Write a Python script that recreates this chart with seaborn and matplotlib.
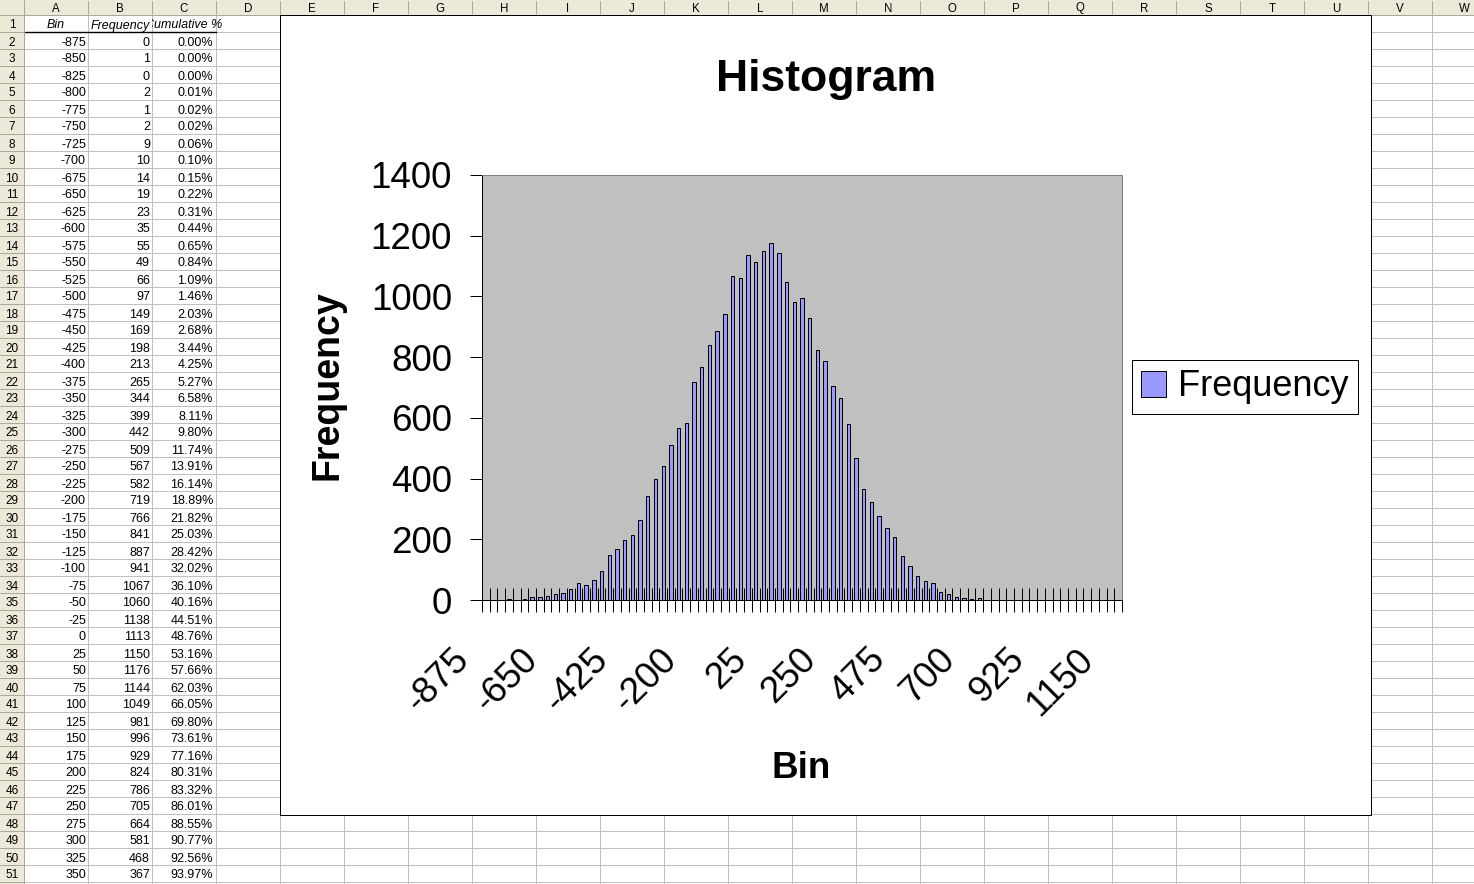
import matplotlib
matplotlib.use("Agg")
import matplotlib.pyplot as plt
from matplotlib.patches import Rectangle
from matplotlib.transforms import ScaledTranslation
import numpy as np
import pandas as pd
import seaborn as sns

# Histogram bins (categories) and counts
bins = [-875, -850, -825, -800, -775, -750, -725, -700, -675, -650,
        -625, -600, -575, -550, -525, -500, -475, -450, -425, -400,
        -375, -350, -325, -300, -275, -250, -225, -200, -175, -150,
        -125, -100, -75, -50, -25, 0, 25, 50, 75, 100,
        125, 150, 175, 200, 225, 250, 275, 300, 325, 350,
        375, 400, 425, 450, 475, 500, 525, 550, 575, 600,
        625, 650, 675, 700, 725, 750, 775, 800, 825, 850,
        875, 900, 925, 950, 975, 1000, 1025, 1050, 1075, 1100,
        1125, 1150, 1175]
frequency = [0, 1, 0, 2, 1, 2, 9, 10, 14, 19,
             23, 35, 55, 49, 66, 97, 149, 169, 198, 213,
             265, 344, 399, 442, 509, 567, 582, 719, 766, 841,
             887, 941, 1067, 1060, 1138, 1113, 1150, 1176, 1144, 1049,
             981, 996, 929, 824, 786, 705, 664, 581, 468, 367,
             323, 277, 238, 208, 145, 112, 79, 63, 56, 26,
             20, 10, 7, 3, 7, 0, 0, 0, 0, 0,
             0, 0, 0, 0, 0, 0, 0, 0, 0, 0,
             0, 0, 0]
# cumulative % column as shown in the sheet (rows 2-51)
cum_pct = [0.00, 0.00, 0.00, 0.01, 0.02, 0.02, 0.06, 0.10, 0.15, 0.22,
           0.31, 0.44, 0.65, 0.84, 1.09, 1.46, 2.03, 2.68, 3.44, 4.25,
           5.27, 6.58, 8.11, 9.80, 11.74, 13.91, 16.14, 18.89, 21.82, 25.03,
           28.42, 32.02, 36.10, 40.16, 44.51, 48.76, 53.16, 57.66, 62.03, 66.05,
           69.80, 73.61, 77.16, 80.31, 83.32, 86.01, 88.55, 90.77, 92.56, 93.97]
col_letters = list("ABCDEFGHIJKLMNOPQRSTUVW")
y_ticks = [0, 200, 400, 600, 800, 1000, 1200, 1400]

W, H = 1474, 884
PT = 0.72  # points per pixel at dpi 100

sns.set_style("white")
plt.rcParams['font.family'] = ['Liberation Sans', 'DejaVu Sans']
plt.rcParams.update({'text.color': 'black', 'axes.labelcolor': 'black',
                     'xtick.color': 'black', 'ytick.color': 'black'})

fig = plt.figure(figsize=(W / 100, H / 100), dpi=100)

# ---- spreadsheet background ----
bg = fig.add_axes([0, 0, 1, 1])
bg.set_xlim(0, W)
bg.set_ylim(H, 0)
bg.axis('off')

head_h, row_h, rowhdr_w, col_w = 15, 17, 24, 64
grid_c, head_c, head_line = '#C0C0C0', '#ECE9D8', '#ACA899'
n_rows = 51

for k in range(len(col_letters) + 1):
    x = rowhdr_w + col_w * k
    bg.plot([x, x], [head_h, H], color=grid_c, lw=PT, zorder=1)
for r in range(n_rows + 2):
    y = head_h + row_h * r
    bg.plot([rowhdr_w, W], [y, y], color=grid_c, lw=PT, zorder=1)

bg.add_patch(Rectangle((0, 0), W, head_h, facecolor=head_c, edgecolor='none', zorder=2))
bg.add_patch(Rectangle((0, 0), rowhdr_w, H, facecolor=head_c, edgecolor='none', zorder=2))
bg.plot([0, W], [head_h, head_h], color=head_line, lw=PT, zorder=3)
bg.plot([rowhdr_w, rowhdr_w], [0, H], color=head_line, lw=PT, zorder=3)
for k, letter in enumerate(col_letters):
    x0 = rowhdr_w + col_w * k
    bg.plot([x0 + col_w, x0 + col_w], [1, head_h - 1], color=head_line, lw=PT, zorder=3)
    bg.text(x0 + col_w / 2, 11.5, letter, ha='center', va='baseline', fontsize=8.3, zorder=4)
for r in range(1, n_rows + 1):
    y0 = head_h + row_h * (r - 1)
    bg.plot([0, rowhdr_w], [y0 + row_h, y0 + row_h], color=head_line, lw=PT, zorder=3)
    bg.text(rowhdr_w / 2, y0 + 13.5, str(r), ha='center', va='baseline', fontsize=8.5, zorder=4)

# header row of the table
cell_fs = 9
bg.text(rowhdr_w + col_w * 0.5, head_h + 13.5, 'Bin', ha='center', va='baseline',
        style='italic', fontsize=cell_fs, zorder=4)
bg.text(rowhdr_w + col_w * 1.5, head_h + 13.5, 'Frequency', ha='center', va='baseline',
        style='italic', fontsize=cell_fs, zorder=4)
clip = Rectangle((rowhdr_w + col_w * 2, head_h), 200, row_h, transform=bg.transData)
t = bg.text(rowhdr_w + col_w * 2.5, head_h + 13.5, 'Cumulative %', ha='center', va='baseline',
            style='italic', fontsize=cell_fs, zorder=4, clip_on=True)
t.set_clip_path(clip)
bg.plot([rowhdr_w + 1, rowhdr_w + col_w * 3], [head_h + row_h, head_h + row_h],
        color='black', lw=1.4 * PT, zorder=4)

for i in range(50):
    y0 = head_h + row_h * (i + 1)
    bg.text(rowhdr_w + col_w - 2, y0 + 13.5, str(bins[i]), ha='right', va='baseline',
            fontsize=cell_fs, zorder=4)
    bg.text(rowhdr_w + col_w * 2 - 2, y0 + 13.5, str(frequency[i]), ha='right', va='baseline',
            fontsize=cell_fs, zorder=4)
    bg.text(rowhdr_w + col_w * 3 - 3, y0 + 13.5, f"{cum_pct[i]:.2f}%", ha='right', va='baseline',
            fontsize=cell_fs, zorder=4)

# chart frame
bg.add_patch(Rectangle((280, 15), 1091, 800, facecolor='white', edgecolor='black',
                       lw=PT, zorder=5))
bg.text(826, 80, 'Histogram', ha='center', va='center', fontsize=32, weight='bold', zorder=6)

# ---- chart ----
px_l, px_r, px_t, px_b = 482, 1122, 175, 600
ax = fig.add_axes([px_l / W, (H - px_b) / H, (px_r - px_l) / W, (px_b - px_t) / H])
ax.set_zorder(2)

df = pd.DataFrame({'Bin': [str(b) for b in bins], 'Frequency': frequency})
sns.barplot(data=df, x='Bin', y='Frequency', ax=ax, color='#9999FF', saturation=1,
            edgecolor='black', linewidth=PT, width=0.44, label='Frequency')

ax.set_facecolor('#C0C0C0')
ax.set_xlim(-0.5, len(bins) - 0.5)
ax.set_ylim(0, 1400)
for side in ['top', 'right']:
    ax.spines[side].set_color('#808080')
for side in ['left', 'bottom']:
    ax.spines[side].set_color('black')
for s in ax.spines.values():
    s.set_linewidth(PT)
    s.set_visible(True)

ax.set_yticks(y_ticks)
ax.set_yticklabels([str(v) for v in y_ticks])
ax.tick_params(axis='y', direction='out', length=12 * PT, width=PT, color='black',
               pad=18 * PT, labelsize=26.5, left=True, labelcolor='black')

label_idx = list(range(0, len(bins), 9))
ax.set_xticks(label_idx)
ax.set_xticklabels([str(bins[i]) for i in label_idx], rotation=45, ha='right', va='top')
ax.set_xticks(np.arange(len(bins) + 1) - 0.5, minor=True)
ax.tick_params(axis='x', which='major', length=0, pad=42 * PT, labelsize=26.5,
               labelcolor='black')
ax.tick_params(axis='x', which='minor', direction='inout', length=24 * PT, width=PT,
               color='black', bottom=True)
off = ScaledTranslation(-10 / 100, 0, fig.dpi_scale_trans)
for lab in ax.get_xticklabels():
    lab.set_transform(lab.get_transform() + off)

ax.set_ylabel('Frequency', fontsize=27, weight='bold', va='center')
ax.yaxis.set_label_coords((328 - px_l) / (px_r - px_l), (px_b - 385) / (px_b - px_t))
ax.set_xlabel('Bin', fontsize=26.5, weight='bold', va='center')
ax.xaxis.set_label_coords((801 - px_l) / (px_r - px_l), (px_b - 768) / (px_b - px_t))

leg = ax.legend(loc='center left', bbox_to_anchor=(1132 / W, 1 - 387 / H),
                bbox_transform=fig.transFigure, fontsize=26, frameon=True, fancybox=False,
                edgecolor='black', framealpha=1, handlelength=0.7, handleheight=0.7,
                handletextpad=0.33, borderpad=0.25, borderaxespad=0)
leg.get_frame().set_linewidth(PT)

fig.savefig('out.png', dpi=100)
